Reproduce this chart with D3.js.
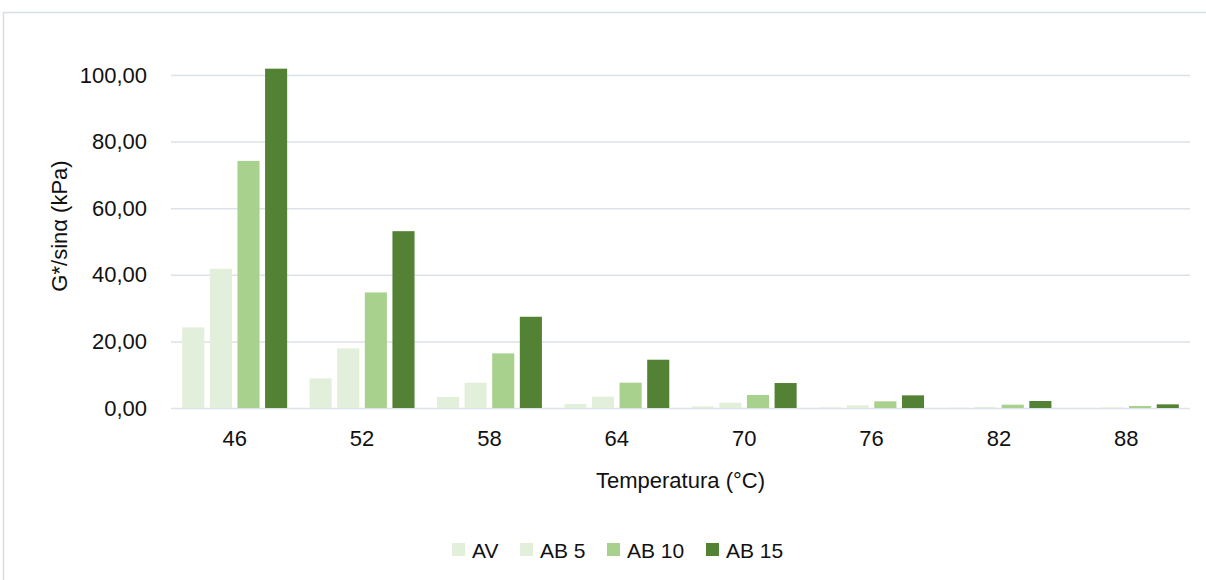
<!DOCTYPE html>
<html>
<head>
<meta charset="utf-8">
<script src="https://cdn.jsdelivr.net/npm/d3@7"></script>
<style>
  html, body { margin: 0; padding: 0; background: #fff; }
  svg { display: block; font-family: "Liberation Sans", Arial, sans-serif; }
</style>
</head>
<body>
<svg id="chart" width="1206" height="580"></svg>
<script>
// Temperatures (°C) on the category axis
const categories = ["46", "52", "58", "64", "70", "76", "82", "88"];

// G*/sinδ (kPa) per binder
const seriesNames = ["AV", "AB 5", "AB 10", "AB 15"];
const valuesAV   = [24.2, 8.9, 3.3, 1.2, 0.5, 0.2, 0.1, 0.05];
const valuesAB5  = [41.8, 17.9, 7.6, 3.4, 1.6, 0.8, 0.3, 0.2];
const valuesAB10 = [74.2, 34.7, 16.4, 7.6, 3.9, 2.0, 1.0, 0.6];
const valuesAB15 = [101.9, 53.1, 27.4, 14.5, 7.5, 3.8, 2.1, 1.1];

const yTicks = [0, 20, 40, 60, 80, 100];

const seriesValues = [valuesAV, valuesAB5, valuesAB10, valuesAB15];
const colors = ["#e2efda", "#e2efda", "#a9d18e", "#548235"];

const svg = d3.select("#chart");
const plot = { left: 171, right: 1190, top: 75, bottom: 408 };

// frame around the chart area
svg.append("rect")
  .attr("x", 3.5).attr("y", 12.5)
  .attr("width", 1220).attr("height", 600)
  .attr("fill", "none").attr("stroke", "#d9dee4").attr("stroke-width", 1.5);

const x0 = d3.scaleBand().domain(categories)
  .range([plot.left, plot.right]).paddingInner(0.176).paddingOuter(0.088);
const x1 = d3.scaleBand().domain(seriesNames)
  .range([0, x0.bandwidth()]).paddingInner(0.2);
const y = d3.scaleLinear().domain([0, 100]).range([plot.bottom, plot.top]);

const locale = d3.formatLocale({ decimal: ",", thousands: ".", grouping: [3], currency: ["", ""] });
const fmt = locale.format(".2f");

// horizontal gridlines
const yAxis = d3.axisLeft(y).tickValues(yTicks).tickFormat(fmt)
  .tickSize(-(plot.right - plot.left)).tickPadding(24);
const gy = svg.append("g").attr("transform", `translate(${plot.left},0)`).call(yAxis);
gy.select(".domain").remove();
gy.selectAll(".tick line").attr("stroke", "#dde2e8").attr("stroke-width", 1.5);
gy.selectAll(".tick text")
  .attr("font-size", 22).attr("fill", "#111")
  .attr("font-family", "'Liberation Sans', Arial, sans-serif");

// bars
const rows = categories.map((c, i) => ({ cat: c, vals: seriesNames.map((s, j) => ({ s, j, v: seriesValues[j][i] })) }));
const groups = svg.append("g").selectAll("g").data(rows).join("g")
  .attr("transform", d => `translate(${x0(d.cat)},0)`);
groups.selectAll("rect").data(d => d.vals).join("rect")
  .attr("x", d => x1(d.s))
  .attr("width", x1.bandwidth())
  .attr("y", d => y(d.v))
  .attr("height", d => y(0) - y(d.v))
  .attr("fill", d => colors[d.j]);

// category axis labels
const xAxis = d3.axisBottom(x0).tickSize(0).tickPadding(22);
const gx = svg.append("g").attr("transform", `translate(0,${plot.bottom})`).call(xAxis);
gx.select(".domain").remove();
gx.selectAll(".tick text")
  .attr("font-size", 22).attr("fill", "#111")
  .attr("font-family", "'Liberation Sans', Arial, sans-serif");

// axis titles
svg.append("text")
  .attr("x", (plot.left + plot.right) / 2).attr("y", 488)
  .attr("text-anchor", "middle").attr("font-size", 22).attr("fill", "#111")
  .text("Temperatura (°C)");
svg.append("text")
  .attr("transform", "translate(67,226) rotate(-90)")
  .attr("text-anchor", "middle").attr("font-size", 22).attr("fill", "#111")
  .text("G*/sinα (kPa)");

// legend
const legendX = [452, 520, 607, 706];
const legend = svg.append("g").selectAll("g").data(seriesNames).join("g")
  .attr("transform", (d, i) => `translate(${legendX[i]},543)`);
legend.append("rect").attr("width", 13).attr("height", 13)
  .attr("fill", (d, i) => colors[i]);
legend.append("text").attr("x", 20).attr("y", 14.5)
  .attr("font-size", 21).attr("fill", "#111").text(d => d);
</script>
</body>
</html>
